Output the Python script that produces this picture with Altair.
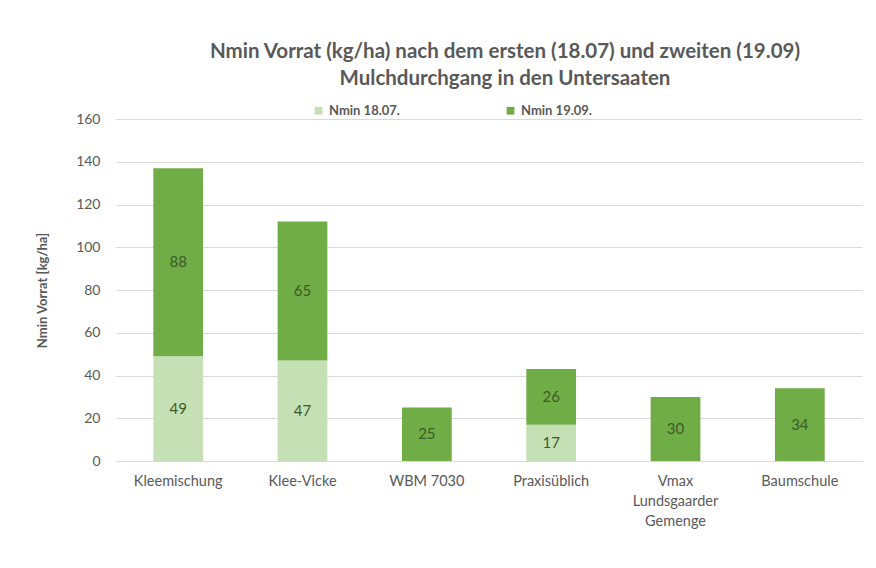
import altair as alt
import pandas as pd

categories = ["Kleemischung", "Klee-Vicke", "WBM 7030", "Praxisüblich",
              "Vmax|Lundsgaarder|Gemenge", "Baumschule"]
nmin_1807 = [49, 47, 0, 17, 0, 0]
nmin_1909 = [88, 65, 25, 26, 30, 34]
series = ["Nmin 18.07.", "Nmin 19.09."]
colors = ["#c5e0b4", "#70ad47"]

rows = []
for i, c in enumerate(categories):
    rows.append({"cat": c, "series": series[0], "value": nmin_1807[i], "order": 0})
    rows.append({"cat": c, "series": series[1], "value": nmin_1909[i], "order": 1})
df = pd.DataFrame(rows)

font = "Lato"
gray = "#595959"

x = alt.X("cat:N", sort=categories, title=None,
          scale=alt.Scale(paddingInner=0.6, paddingOuter=0.3),
          axis=alt.Axis(labelAngle=0, labelExpr="split(datum.label, '|')",
                        labelFont=font, labelFontSize=14.5, labelColor=gray,
                        labelPadding=13, labelLineHeight=20, ticks=False,
                        domainColor="#d9d9d9", labelBaseline="top"))

bars = alt.Chart(df).mark_bar().encode(
    x=x,
    y=alt.Y("sum(value):Q", stack="zero", title="Nmin Vorrat [kg/ha]",
            scale=alt.Scale(domain=[0, 160]),
            axis=alt.Axis(values=list(range(0, 161, 20)), gridColor="#d9d9d9",
                          domain=False, ticks=False, labelFont=font,
                          labelFontSize=14, labelColor=gray, labelPadding=16,
                          titleFont=font, titleFontSize=13, titleColor=gray,
                          titleFontWeight="bold", titlePadding=26)),
    color=alt.Color("series:N", sort=series,
                    scale=alt.Scale(domain=series, range=colors),
                    legend=alt.Legend(title=None, orient="none", direction="horizontal",
                                      legendX=196, legendY=-15, symbolType="square",
                                      symbolSize=60, symbolStrokeWidth=0,
                                      labelFont=font, labelFontSize=13,
                                      labelFontWeight="bold", labelColor=gray,
                                      columnPadding=104)),
    order=alt.Order("order:Q"),
)

labels = alt.Chart(df).transform_filter("datum.value > 0").transform_stack(
    stack="value", groupby=["cat"], as_=["v0", "v1"], sort=[alt.SortField("order")]
).transform_calculate(mid="(datum.v0 + datum.v1) / 2").mark_text(
    font=font, fontSize=15, color="#3d5a2a"
).encode(
    x=alt.X("cat:N", sort=categories),
    y=alt.Y("mid:Q"),
    text=alt.Text("value:Q"),
)

chart = alt.layer(bars, labels).properties(
    width=746, height=342,
    background="white",
    autosize=alt.AutoSizeParams(type="none"),
    padding={"left": 108, "top": 111, "right": 6, "bottom": 80},
    title=alt.TitleParams(
        text=["Nmin Vorrat (kg/ha) nach dem ersten (18.07) und zweiten (19.09)",
              "Mulchdurchgang in den Untersaaten"],
        font=font, fontSize=20.5, fontWeight="bold", color=gray,
        anchor="middle", dx=16, offset=15, lineHeight=27),
).configure_view(strokeWidth=0, stroke="transparent")

chart.save("out.html", embed_options={"renderer": "svg", "actions": False})
